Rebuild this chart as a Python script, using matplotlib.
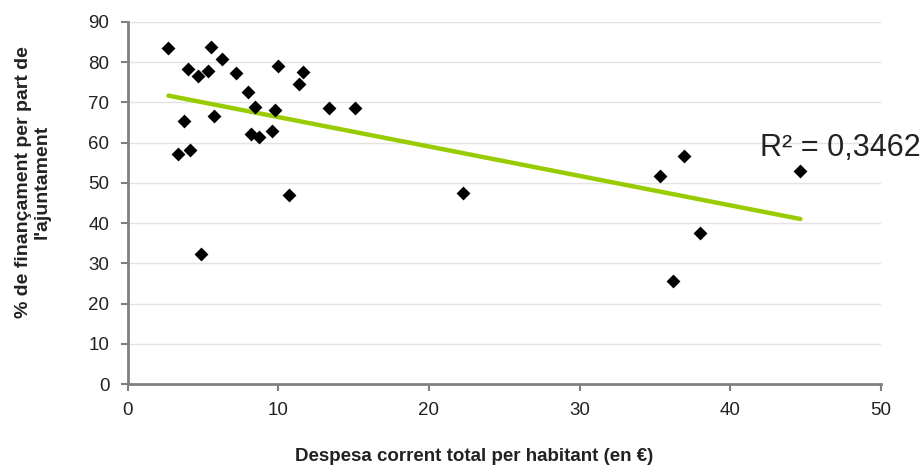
import numpy as np
import matplotlib
matplotlib.use("Agg")
import matplotlib.pyplot as plt

plt.rcParams["font.family"] = ["Liberation Sans", "DejaVu Sans"]

# despesa corrent per habitant (€) i % de finançament municipal
despesa = [2.72, 5.51, 6.25, 4.01, 4.67, 5.36, 7.20, 10.01, 11.67, 11.41,
           8.02, 8.44, 9.77, 13.38, 15.10, 3.77, 5.74, 8.22, 8.73, 9.61,
           3.34, 4.12, 10.72, 4.87, 22.28, 35.35, 36.92, 44.65, 37.99, 36.21]
financament = [83.6, 83.8, 80.7, 78.3, 76.6, 77.7, 77.3, 79.0, 77.5, 74.5,
               72.5, 68.9, 68.0, 68.6, 68.5, 65.5, 66.7, 62.1, 61.5, 62.9,
               57.3, 58.1, 47.1, 32.3, 47.5, 51.6, 56.7, 52.9, 37.5, 25.6]
r2_text = "R² = 0,3462"

x_ticks = [0, 10, 20, 30, 40, 50]
y_ticks = [0, 10, 20, 30, 40, 50, 60, 70, 80, 90]

grey = "#808080"
ink = "#222222"

fig = plt.figure(figsize=(9.24, 4.65), dpi=100)
ax = fig.add_axes([127.5 / 924, 1 - 384 / 465, (881 - 127.5) / 924, (384 - 22) / 465])

ax.scatter(despesa, financament, marker="D", s=50, color="black", zorder=3,
           linewidths=0)

# recta de tendència lineal
slope, intercept = np.polyfit(despesa, financament, 1)
xs = np.array([min(despesa), max(despesa)])
ax.plot(xs, slope * xs + intercept, color="#99cc00", lw=3.2,
        solid_capstyle="round", zorder=2)

ax.set_xlim(0, 50)
ax.set_ylim(0, 90)
ax.set_xticks(x_ticks)
ax.set_yticks(y_ticks)
ax.yaxis.grid(True, color="#e3e3e3", lw=1)
ax.set_axisbelow(True)

for side in ["top", "right"]:
    ax.spines[side].set_visible(False)
for side in ["left", "bottom"]:
    ax.spines[side].set_color(grey)
    ax.spines[side].set_linewidth(2)

ax.tick_params(axis="both", colors=grey, width=1.5, length=5,
               labelsize=13.5, labelcolor=ink, pad=8)

fig.text(474 / 924, 1 - 461 / 465, "Despesa corrent total per habitant (en €)",
         fontsize=13.5, fontweight="bold", color=ink, ha="center", va="baseline")
fig.text(32.5 / 924, 1 - 182 / 465, "% de finançament per part de\nl'ajuntament",
         fontsize=14, fontweight="bold", color=ink, rotation=90,
         ha="center", va="center", multialignment="center", linespacing=1.15)

fig.text(760 / 924, 1 - 156.5 / 465, r2_text, fontsize=22, color=ink,
         ha="left", va="baseline")

fig.savefig("out.png", dpi=100)
